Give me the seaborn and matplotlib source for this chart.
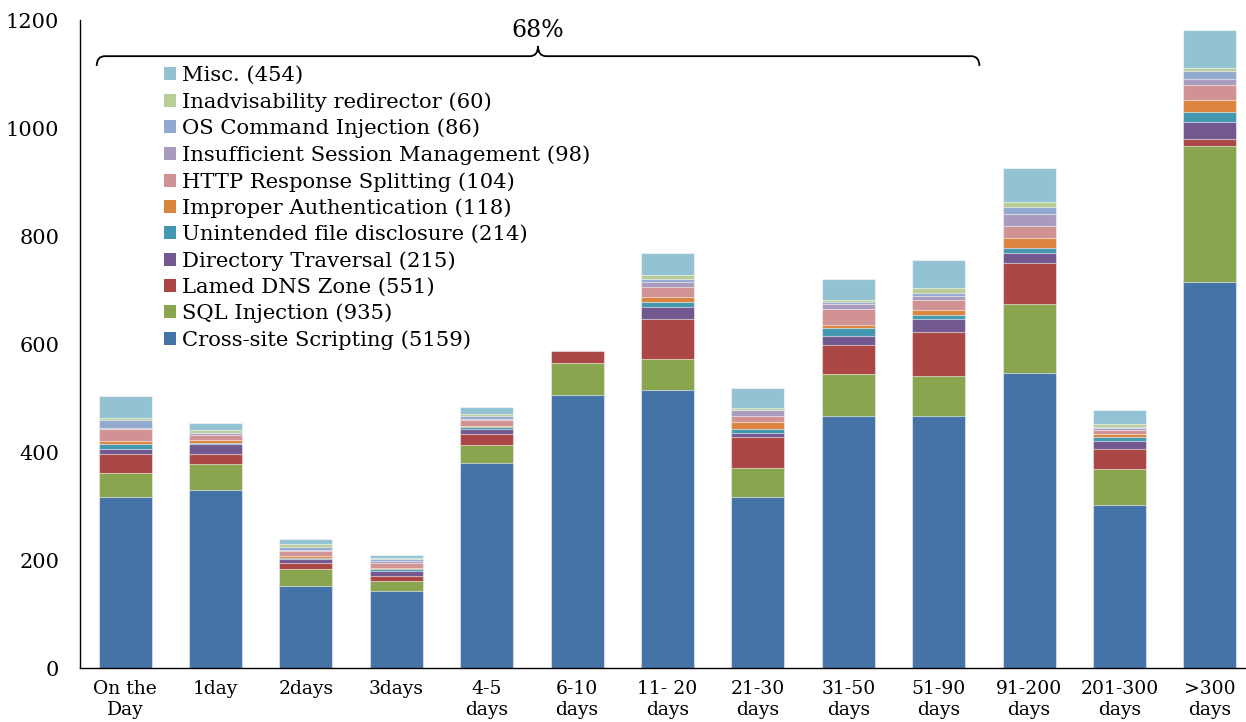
import numpy as np
import pandas as pd
import matplotlib
matplotlib.use("Agg")
import matplotlib.pyplot as plt
from matplotlib.patches import Patch, PathPatch
from matplotlib.path import Path
import seaborn as sns

categories = ["On the\nDay", "1day", "2days", "3days", "4-5\ndays", "6-10\ndays",
              "11- 20\ndays", "21-30\ndays", "31-50\ndays", "51-90\ndays",
              "91-200\ndays", "201-300\ndays", ">300\ndays"]

xss      = [317, 330, 152, 143, 380, 505, 515, 317, 467, 467, 546, 302, 715]
sql      = [44, 48, 31, 19, 33, 60, 57, 54, 78, 74, 128, 66, 252]
dns      = [35, 19, 12, 9, 21, 22, 75, 56, 53, 81, 76, 37, 12]
dirtrav  = [9, 17, 7, 9, 9, 0, 22, 9, 16, 25, 19, 15, 33]
unint    = [9, 3, 1, 3, 3, 0, 9, 7, 15, 7, 9, 8, 17]
improper = [6, 5, 4, 3, 3, 0, 9, 12, 7, 9, 18, 6, 22]
http     = [22, 9, 9, 9, 10, 0, 19, 12, 28, 19, 23, 6, 28]
insuff   = [2, 4, 2, 3, 3, 0, 9, 10, 10, 7, 22, 4, 12]
oscmd    = [16, 0, 7, 3, 5, 0, 5, 1, 4, 6, 12, 3, 15]
inadv    = [3, 5, 4, 2, 4, 0, 7, 3, 3, 9, 10, 5, 6]
misc     = [41, 14, 9, 6, 12, 0, 41, 37, 40, 51, 63, 26, 69]

series_names = ["Cross-site Scripting (5159)", "SQL Injection (935)", "Lamed DNS Zone (551)",
                "Directory Traversal (215)", "Unintended file disclosure (214)",
                "Improper Authentication (118)", "HTTP Response Splitting (104)",
                "Insufficient Session Management (98)", "OS Command Injection (86)",
                "Inadvisability redirector (60)", "Misc. (454)"]
series_vals = [xss, sql, dns, dirtrav, unint, improper, http, insuff, oscmd, inadv, misc]
colors = ["#4572A7", "#89A54E", "#AA4643", "#71588F", "#4198AF", "#DB843D",
          "#D09292", "#A99BBD", "#93A9CF", "#B9CD96", "#93C3D3"]

sns.set_theme(style="white")
plt.rcParams["font.family"] = ["DejaVu Serif"]
plt.rcParams["text.color"] = "black"
plt.rcParams["xtick.color"] = "black"
plt.rcParams["ytick.color"] = "black"

fig = plt.figure(figsize=(12.46, 7.22), dpi=100)
ax = fig.add_axes([80/1246, 1 - 668/722, 1 - 80/1246, (668 - 20)/722])

df = pd.DataFrame({"cat": categories})
cum = np.cumsum(np.array(series_vals), axis=0)
for i in range(len(series_vals) - 1, -1, -1):
    df["v"] = cum[i]
    sns.barplot(data=df, x="cat", y="v", order=categories, color=colors[i],
                saturation=1, width=0.586, edgecolor=(1, 1, 1, 0.55), linewidth=0.8,
                ax=ax, errorbar=None)

ax.set_xlim(-0.5, 12.4)
ax.set_ylim(0, 1200)
ax.set_yticks(range(0, 1201, 200))
ax.set_xlabel("")
ax.set_ylabel("")
ax.set_xticks(range(len(categories)))
ax.set_xticklabels(categories, fontsize=13.5, linespacing=1.15)
ax.set_xticks(np.arange(-0.5, 12.5, 1.0), minor=True)
ax.tick_params(axis="x", which="major", length=0, pad=9)
ax.tick_params(axis="x", which="minor", length=6, width=1, color="black", direction="out")
ax.tick_params(axis="y", length=5, width=1, color="black", direction="out", labelsize=15, pad=10)
for s in ["top", "right"]:
    ax.spines[s].set_visible(False)
for s in ["left", "bottom"]:
    ax.spines[s].set_color("black")
    ax.spines[s].set_linewidth(1)

# brace spanning first ten categories
x0, x1 = -0.315, 9.45
xc = (x0 + x1) / 2
yb, ym, yt = 1115, 1133, 1152
dx = 0.09
verts = [(x0, yb), (x0, ym), (x0 + dx, ym), (xc - dx, ym), (xc, ym), (xc, yt),
         (xc, ym), (xc + dx, ym), (x1 - dx, ym), (x1, ym), (x1, yb)]
codes = [Path.MOVETO, Path.CURVE3, Path.CURVE3, Path.LINETO, Path.CURVE3, Path.CURVE3,
         Path.CURVE3, Path.CURVE3, Path.LINETO, Path.CURVE3, Path.CURVE3]
ax.add_patch(PathPatch(Path(verts, codes), facecolor="none", edgecolor="black", lw=1.3,
                       clip_on=False))
ax.text(xc, 1160, "68%", ha="center", va="bottom", fontsize=17)

handles = [Patch(facecolor=colors[i], edgecolor="none", label=series_names[i])
           for i in range(len(series_names) - 1, -1, -1)]
ax.legend(handles=handles, loc="upper left", bbox_to_anchor=(164/1246, 1 - 66/722),
          bbox_transform=fig.transFigure, frameon=False, fontsize=15.2,
          handlelength=0.57, handleheight=0.57, handletextpad=0.3, labelspacing=0.33,
          borderpad=0, borderaxespad=0)

fig.savefig("out.png", dpi=100)
